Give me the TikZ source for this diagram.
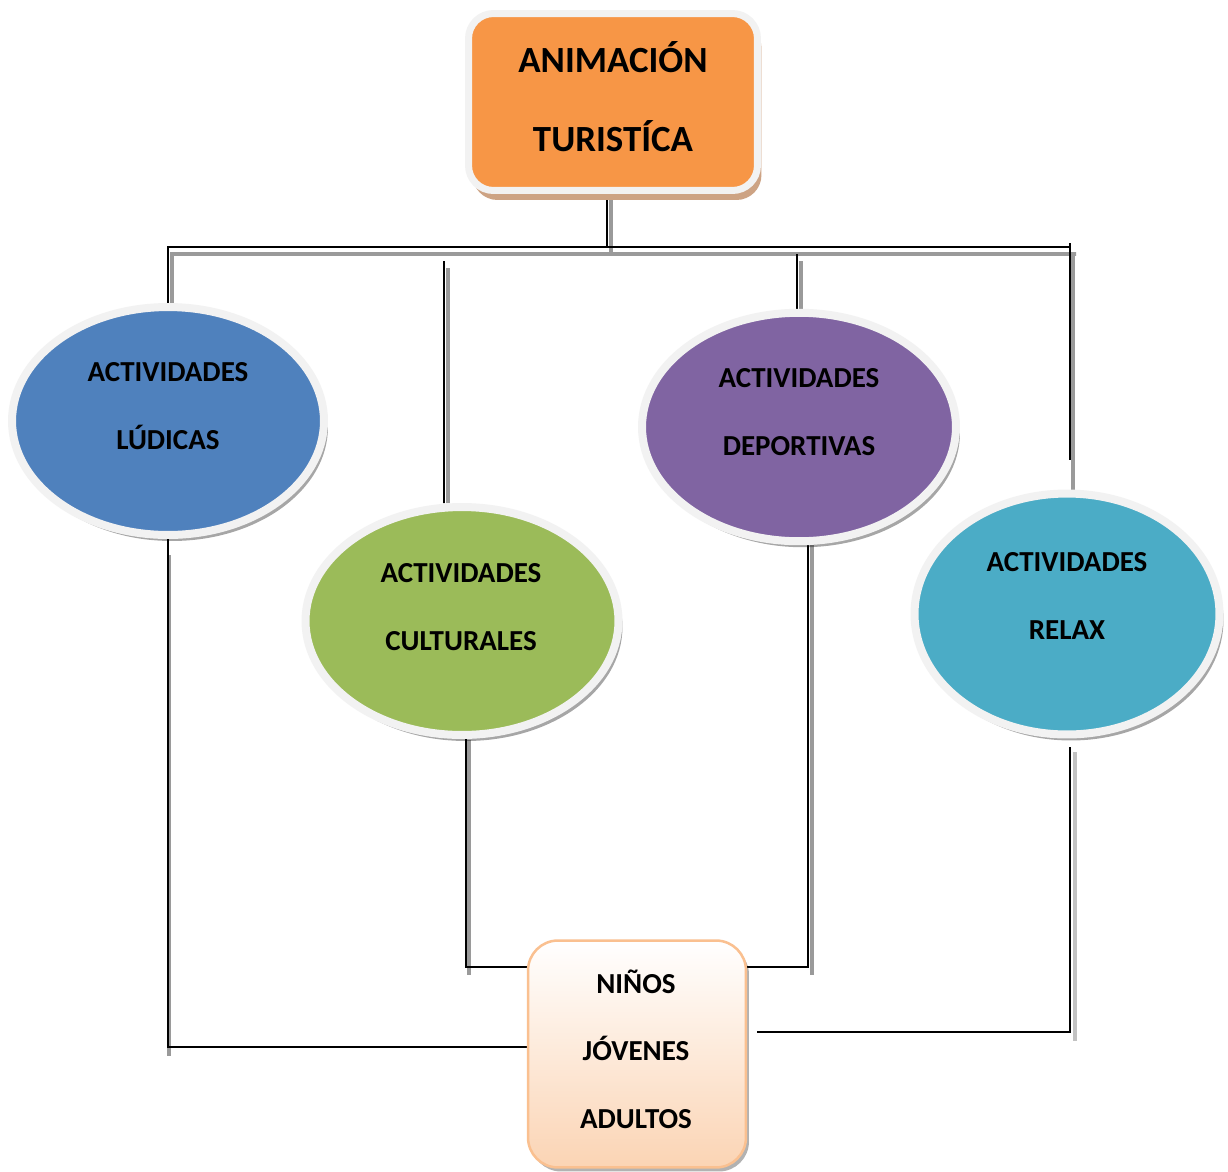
\documentclass[tikz,border=0pt]{standalone}
\usepackage{fontspec}
\setmainfont{Carlito}
\usetikzlibrary{shapes.geometric,shadows,backgrounds}
\definecolor{orng}{HTML}{F79646}
\definecolor{orngsh}{HTML}{CDA384}
\definecolor{blu}{HTML}{4F81BD}
\definecolor{grn}{HTML}{9BBB59}
\definecolor{prp}{HTML}{8064A2}
\definecolor{tea}{HTML}{4BACC6}
\definecolor{rim}{HTML}{F2F2F2}
\definecolor{peachline}{HTML}{FAC090}
\definecolor{peach}{HTML}{FBD4B4}
\definecolor{shline}{HTML}{9A9A9A}
\tikzset{
  oval/.style={ellipse, draw=rim, line width=0.16cm, inner sep=0pt,
    drop shadow={shadow xshift=0.08cm, shadow yshift=-0.12cm, fill=black, opacity=0.35}},
  etext/.style={font=\fontsize{16.5}{38.7}\selectfont\bfseries, align=center, inner sep=0pt, text=black},
  conn/.style={black, line width=1.1pt},
  shad/.style={shline, line width=2.2pt},
}
\begin{document}
\begin{tikzpicture}[x=0.02cm,y=-0.02cm]
\useasboundingbox (0,0) rectangle (1228,1171);

% top box
\node[rectangle, rounded corners=0.5cm, draw=rim, line width=0.14cm, fill=orng,
  minimum width=5.78cm, minimum height=3.54cm, inner sep=0pt,
  drop shadow={shadow xshift=0.08cm, shadow yshift=-0.19cm, fill=orngsh, opacity=1}]
  (top) at (613,102) {};
\node[font=\fontsize{21}{45}\selectfont\bfseries, align=center, inner sep=0pt]
  (toptext) at (613,97) {ANIMACIÓN\\TURISTÍCA};

% ellipses
\node[oval, fill=blu, minimum width=6.24cm, minimum height=4.56cm] (lud) at (168,421) {};
\node[etext] (ludt) at (168,406) {ACTIVIDADES\\LÚDICAS};

\node[oval, fill=grn, minimum width=6.26cm, minimum height=4.56cm] (cul) at (462,621) {};
\node[etext] (cult) at (461,607) {ACTIVIDADES\\CULTURALES};

\node[oval, fill=prp, minimum width=6.28cm, minimum height=4.57cm] (dep) at (799,427) {};
\node[etext] (dept) at (799,412) {ACTIVIDADES\\DEPORTIVAS};

\node[oval, fill=tea, minimum width=6.1cm, minimum height=4.82cm] (rel) at (1067,614) {};
\node[etext] (relt) at (1067,596) {ACTIVIDADES\\RELAX};

% bottom box
\node[rectangle, rounded corners=0.6cm, draw=peachline, line width=0.05cm,
  top color=white, bottom color=peach, minimum width=4.36cm, minimum height=4.54cm,
  inner sep=0pt,
  drop shadow={shadow xshift=0.06cm, shadow yshift=-0.08cm, fill=black, opacity=0.3}]
  (bot) at (637,1054) {};
\node[etext, font=\fontsize{16.5}{38.3}\selectfont\bfseries] (bott) at (636,1049) {NIÑOS\\JÓVENES\\ADULTOS};

\begin{scope}[on background layer]
  \fill[white] (0,0) rectangle (1228,1171);
  % gray shadows of the connectors
  \draw[shad] ([xshift=-0.04cm]top.south) -- (611,254);
  \draw[shad] ([xshift=0.08cm]lud.north) -- (172,254) -- (1076,254);
  \draw[shad] (448,268) -- ([xshift=-0.28cm]cul.north);
  \draw[shad] (801,261) -- ([xshift=0.04cm]dep.north);
  \draw[shad] (1073,254) -- (1073,490);
  \draw[shad] (169,555) -- (169,1056);
  \draw[shad] (469,740) -- (469,975);
  \draw[shad] (812,545) -- (812,975);
  \draw[shad, shline!60] (1075,752) -- (1075,1041);
  % black connectors
  \draw[conn] ([xshift=-0.12cm]top.south) -- (607,247);
  \draw[conn] (lud.north) -- (168,247) -- (1070,247);
  \draw[conn] (1070,243) -- (1070,460);
  \draw[conn] (444,261) -- ([xshift=-0.36cm]cul.north);
  \draw[conn] (797,254) -- ([xshift=-0.04cm]dep.north);
  \draw[conn] (lud.south) -- (168,1047) -- ([yshift=0.14cm]bot.west);
  \draw[conn] ([xshift=0.08cm]cul.south) -- (466,967) -- ([yshift=1.74cm]bot.west);
  \draw[conn] ([xshift=0.18cm]dep.south) -- (808,967) -- ([yshift=1.74cm]bot.east);
  \draw[conn] (1070,747) -- (1070,1032) -- (757,1032);
\end{scope}
\end{tikzpicture}
\end{document}
